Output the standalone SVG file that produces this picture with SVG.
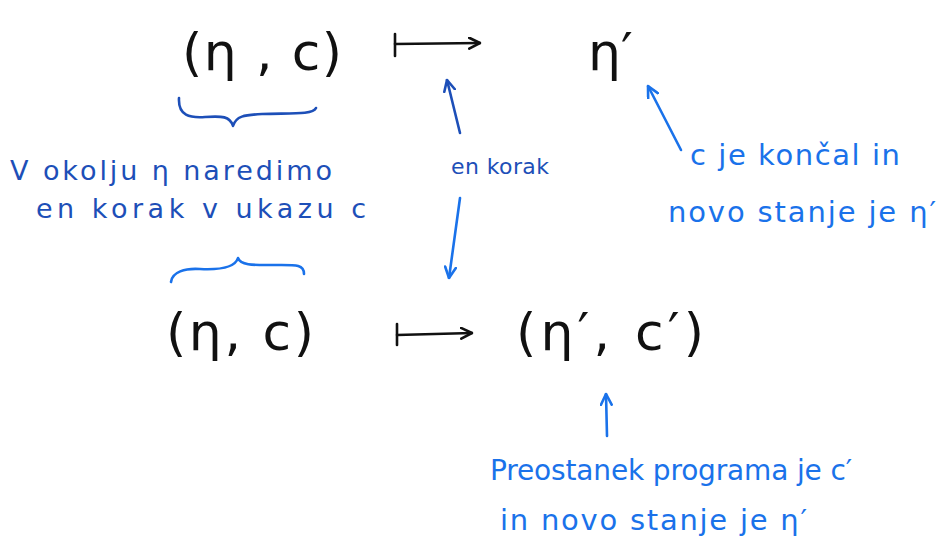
<svg xmlns="http://www.w3.org/2000/svg" width="943" height="552" viewBox="0 0 943 552">
<defs>
<style>
.math{font-family:"DejaVu Sans","Liberation Sans",sans-serif;font-size:52px;fill:#111}
.dk{font-family:"DejaVu Sans","Liberation Sans",sans-serif;font-size:27px;fill:#1d4fb8}
.br{font-family:"DejaVu Sans","Liberation Sans",sans-serif;font-size:29px;fill:#1a72ea}
.k{stroke:#111;stroke-width:2.6;fill:none;stroke-linecap:round;stroke-linejoin:round}
.db{stroke:#1d4fb8;stroke-width:2.6;fill:none;stroke-linecap:round;stroke-linejoin:round}
.bb{stroke:#1a72ea;stroke-width:2.6;fill:none;stroke-linecap:round;stroke-linejoin:round}
</style>
<marker id="ak" viewBox="0 0 12 12" refX="11" refY="6" markerWidth="13" markerHeight="13" markerUnits="userSpaceOnUse" orient="auto"><path d="M1,1 L11,6 L1,11" fill="none" stroke="#111" stroke-width="2.4" stroke-linecap="round"/></marker>
<marker id="adb" viewBox="0 0 12 12" refX="11" refY="6" markerWidth="13" markerHeight="13" markerUnits="userSpaceOnUse" orient="auto"><path d="M1,1 L11,6 L1,11" fill="none" stroke="#1d4fb8" stroke-width="2.4" stroke-linecap="round"/></marker>
<marker id="abb" viewBox="0 0 12 12" refX="11" refY="6" markerWidth="13" markerHeight="13" markerUnits="userSpaceOnUse" orient="auto"><path d="M1,1 L11,6 L1,11" fill="none" stroke="#1a72ea" stroke-width="2.4" stroke-linecap="round"/></marker>
</defs>
<rect width="943" height="552" fill="#fff"/>
<g id="top-left"><text class="math" x="182" y="70" textLength="160" lengthAdjust="spacing">(η , c)</text></g>
<g id="top-right"><text class="math" x="588" y="70">η′</text></g>
<g id="bottom-left"><text class="math" x="166" y="350" textLength="148" lengthAdjust="spacing">(η, c)</text></g>
<g id="bottom-right"><text class="math" x="516" y="350" textLength="188" lengthAdjust="spacing">(η′, c′)</text></g>
<g id="note-left">
<path class="db" d="M179,98 C178,116 190,118 205,117 C222,116 230,116 233,126 C236,116 244,115 262,114 C290,113 313,115 316,108"/>
<text class="dk" x="10" y="180" textLength="322" lengthAdjust="spacing">V okolju η naredimo</text>
<text class="dk" x="36" y="218" textLength="330" lengthAdjust="spacing">en korak v ukazu c</text>
<path class="bb" d="M171,282 C172,272 185,268 200,269 C220,270 235,268 238,258 C241,266 255,265 275,265 C295,265 304,264 304,274"/>
</g>
<g id="note-mid"><text class="dk" x="451" y="174" style="font-size:22px" textLength="98" lengthAdjust="spacing">en korak</text></g>
<g id="note-right">
<text class="br" x="690" y="165" textLength="210" lengthAdjust="spacing">c je končal in</text>
<text class="br" x="668" y="222" textLength="268" lengthAdjust="spacing">novo stanje je η′</text>
</g>
<g id="note-bottom">
<text class="br" x="490" y="480" style="font-size:28px" textLength="362" lengthAdjust="spacing">Preostanek programa je c′</text>
<text class="br" x="500" y="530" textLength="307" lengthAdjust="spacing">in novo stanje je η′</text>
</g>
<g id="connectors">
<path class="k" d="M395,34 L395,56"/>
<path class="k" d="M395,44 L480,43" marker-end="url(#ak)"/>
<path class="k" d="M397,324 L397,345"/>
<path class="k" d="M397,335 L472,333" marker-end="url(#ak)"/>
<path class="db" d="M460,133 L447,80" marker-end="url(#adb)"/>
<path class="bb" d="M460,198 L449,278" marker-end="url(#abb)"/>
<path class="bb" d="M681,150 L648,86" marker-end="url(#abb)"/>
<path class="bb" d="M607,436 L606,394" marker-end="url(#abb)"/>
</g>
</svg>
